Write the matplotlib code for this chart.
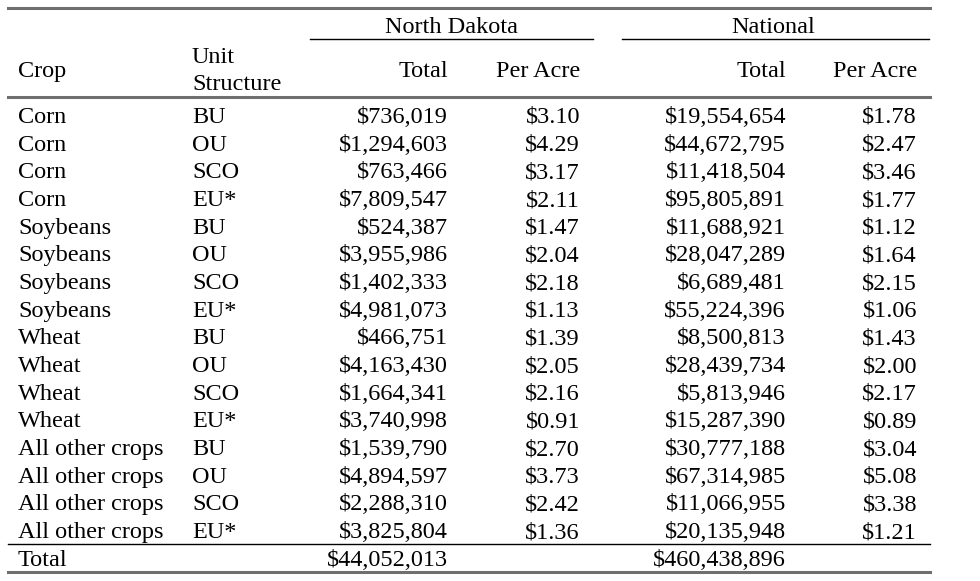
import matplotlib
matplotlib.use("Agg")
import matplotlib.pyplot as plt

crops = ["Corn"] * 4 + ["Soybeans"] * 4 + ["Wheat"] * 4 + ["All other crops"] * 4
units = ["BU", "OU", "SCO", "EU*"] * 4
nd_total = ["$736,019", "$1,294,603", "$763,466", "$7,809,547",
            "$524,387", "$3,955,986", "$1,402,333", "$4,981,073",
            "$466,751", "$4,163,430", "$1,664,341", "$3,740,998",
            "$1,539,790", "$4,894,597", "$2,288,310", "$3,825,804"]
nd_acre = ["$3.10", "$4.29", "$3.17", "$2.11", "$1.47", "$2.04", "$2.18", "$1.13",
           "$1.39", "$2.05", "$2.16", "$0.91", "$2.70", "$3.73", "$2.42", "$1.36"]
nat_total = ["$19,554,654", "$44,672,795", "$11,418,504", "$95,805,891",
             "$11,688,921", "$28,047,289", "$6,689,481", "$55,224,396",
             "$8,500,813", "$28,439,734", "$5,813,946", "$15,287,390",
             "$30,777,188", "$67,314,985", "$11,066,955", "$20,135,948"]
nat_acre = ["$1.78", "$2.47", "$3.46", "$1.77", "$1.12", "$1.64", "$2.15", "$1.06",
            "$1.43", "$2.00", "$2.17", "$0.89", "$3.04", "$5.08", "$3.38", "$1.21"]
grand_total = ["$44,052,013", "$460,438,896"]

FONT = "Liberation Serif"
FS = 17.5
GREY = "#6f6f6f"

fig = plt.figure(figsize=(9.8, 5.81), dpi=100)
ax = fig.add_axes([0, 0, 1, 1])
ax.set_xlim(0, 980)
ax.set_ylim(581, 0)
ax.axis("off")


def txt(x, y, s, ha="left"):
    # y is the visual centre of the capitals; place by baseline for even rows
    ax.text(x, y + 8, s, ha=ha, va="baseline", fontsize=FS, family=FONT, color="black")


# rules
ax.plot([8, 930], [8, 8], color=GREY, lw=2.2)
ax.plot([310, 593], [39, 39], color="black", lw=1)
ax.plot([622, 929], [39, 39], color="black", lw=1)
ax.plot([8, 930], [97, 97], color=GREY, lw=2.2)
ax.plot([8, 930], [544, 544], color="black", lw=1)
ax.plot([8, 930], [572, 572], color=GREY, lw=2.2)

# headers
txt(451, 25, "North Dakota", "center")
txt(773, 25, "National", "center")
txt(18, 69, "Crop")
txt(192, 55, "Unit")
txt(192, 82, "Structure")
txt(448, 69, "Total", "right")
txt(580, 69, "Per Acre", "right")
txt(786, 69, "Total", "right")
txt(917, 69, "Per Acre", "right")

y0, step = 115, 27.67
for i, (c, u, a, b, d, e) in enumerate(zip(crops, units, nd_total, nd_acre, nat_total, nat_acre)):
    y = y0 + i * step
    txt(18, y, c)
    txt(192, y, u)
    txt(448, y, a, "right")
    txt(580, y, b, "right")
    txt(786, y, d, "right")
    txt(917, y, e, "right")

txt(18, 558, "Total")
txt(448, 558, grand_total[0], "right")
txt(786, 558, grand_total[1], "right")

fig.savefig("out.png", dpi=100)
